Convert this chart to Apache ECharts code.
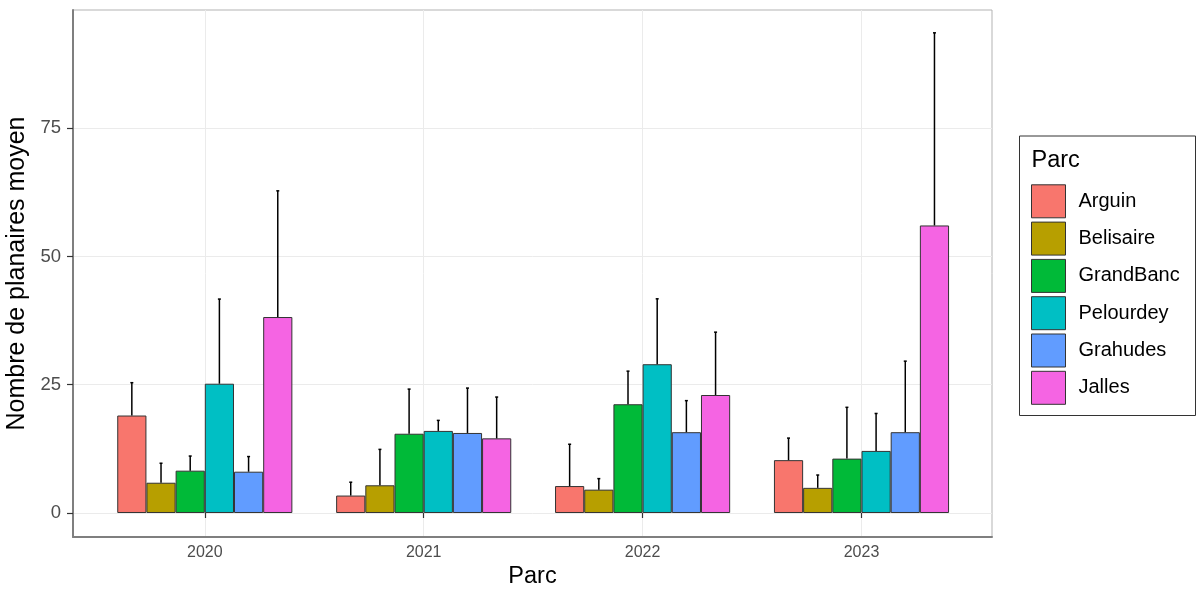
<!DOCTYPE html>
<html>
<head>
<meta charset="utf-8">
<script src="https://cdn.jsdelivr.net/npm/echarts@6/dist/echarts.min.js"></script>
<style>
html,body{margin:0;padding:0;background:#fff;}
#chart{width:1196px;height:593px;}
</style>
</head>
<body>
<div id="chart"></div>
<script>
// ---- data ----
var years = ['2020', '2021', '2022', '2023'];
var parcs = ['Arguin', 'Belisaire', 'GrandBanc', 'Pelourdey', 'Grahudes', 'Jalles'];
var colors = ['#F8766D', '#B79F00', '#00BA38', '#00BFC4', '#619CFF', '#F564E3'];

var arguin      = [19.0, 3.4, 5.25, 10.3];
var belisaire   = [5.9, 5.4, 4.55, 4.9];
var grandBanc   = [8.25, 15.45, 21.2, 10.6];
var pelourdey   = [25.2, 16.0, 29.0, 12.1];
var grahudes    = [8.05, 15.6, 15.75, 15.75];
var jalles      = [38.2, 14.55, 23.0, 56.05];

var arguinHaut    = [25.4, 6.0, 13.4, 14.6];
var belisaireHaut = [9.7, 12.4, 6.7, 7.4];
var grandBancHaut = [11.1, 24.15, 27.65, 20.6];
var pelourdeyHaut = [41.7, 18.05, 41.75, 19.4];
var grahudesHaut  = [11.0, 24.35, 21.9, 29.6];
var jallesHaut    = [62.8, 22.6, 35.25, 93.6];

var yTicks = [0, 25, 50, 75];
var yMin = -4.68, yMax = 98.05;

var means = [arguin, belisaire, grandBanc, pelourdey, grahudes, jalles];
var uppers = [arguinHaut, belisaireHaut, grandBancHaut, pelourdeyHaut, grahudesHaut, jallesHaut];

var FONT = 'Liberation Sans, Arial, sans-serif';
var nS = parcs.length;

var series = [];
// horizontal gridlines (panel grid)
series.push({
  type: 'line', xAxisIndex: 0, yAxisIndex: 0, data: [], silent: true, z: 0,
  markLine: {
    silent: true, symbol: 'none', animation: false, label: {show: false}, z: 0,
    lineStyle: {color: '#ebebeb', width: 1, type: 'solid'},
    emphasis: {disabled: true},
    data: yTicks.map(function (v) { return {yAxis: v}; })
  }
});
// vertical gridlines at categories
series.push({
  type: 'line', xAxisIndex: 1, yAxisIndex: 1, data: [], silent: true, z: 0,
  markLine: {
    silent: true, symbol: 'none', animation: false, label: {show: false}, z: 0,
    lineStyle: {color: '#ebebeb', width: 1, type: 'solid'},
    emphasis: {disabled: true},
    data: years.map(function (y) { return {xAxis: y}; })
  }
});
parcs.forEach(function (p, i) {
  series.push({
    name: p, type: 'bar', xAxisIndex: 1, yAxisIndex: 1,
    data: means[i], barGap: '0%', barCategoryGap: '20%',
    itemStyle: {color: colors[i], borderColor: '#333333', borderWidth: 1},
    z: 2, animation: false
  });
});
var errData = [];
parcs.forEach(function (p, s) {
  years.forEach(function (y, c) {
    errData.push([c, means[s][c], uppers[s][c], s]);
  });
});
series.push({
  type: 'custom', xAxisIndex: 1, yAxisIndex: 1, z: 3, silent: true, animation: false,
  encode: {x: 0, y: [1, 2]},
  data: errData,
  renderItem: function (params, api) {
    var c = api.value(0), m = api.value(1), u = api.value(2), s = api.value(3);
    var band = api.size([1, 0])[0];
    var bw = band * 0.8 / nS;
    var base = api.coord([c, m]);
    var top = api.coord([c, u]);
    var x = base[0] + (s - (nS - 1) / 2) * bw;
    return {
      type: 'group',
      children: [
        {type: 'line', shape: {x1: x, y1: base[1], x2: x, y2: top[1]}, style: {stroke: '#000', lineWidth: 1.5}},
        {type: 'line', shape: {x1: x - 1.5, y1: top[1], x2: x + 1.5, y2: top[1]}, style: {stroke: '#000', lineWidth: 1.5}}
      ]
    };
  }
});

var chart = echarts.init(document.getElementById('chart'), null, {renderer: 'canvas'});
chart.setOption({
  animation: false,
  backgroundColor: '#fff',
  textStyle: {fontFamily: FONT},
  grid: [
    {left: 73, top: 10, width: 919, height: 527, show: true, borderColor: '#b3b3b3', borderWidth: 1,
     backgroundColor: 'transparent', containLabel: false, outerBoundsMode: 'none'},
    {left: 95.35, top: 10, width: 875.6, height: 527, show: false, containLabel: false, outerBoundsMode: 'none'}
  ],
  xAxis: [
    {type: 'value', gridIndex: 0, min: 0, max: 1,
     axisLine: {show: true, onZero: false, lineStyle: {color: '#7f7f7f', width: 2}},
     axisTick: {show: false}, axisLabel: {show: false}, splitLine: {show: false},
     name: 'Parc', nameLocation: 'middle', nameGap: 28,
     nameTextStyle: {fontSize: 23.5, color: '#000', fontFamily: FONT}},
    {type: 'category', gridIndex: 1, data: years,
     axisLine: {show: false},
     axisTick: {show: true, alignWithLabel: true, length: 5, lineStyle: {color: '#333', width: 1.2}},
     axisLabel: {fontSize: 16, color: '#4d4d4d', margin: 8, fontFamily: FONT},
     splitLine: {show: false}}
  ],
  yAxis: [
    {type: 'value', gridIndex: 0, min: yMin, max: yMax,
     axisLine: {show: true, onZero: false, lineStyle: {color: '#7f7f7f', width: 2}},
     axisTick: {show: true, customValues: yTicks, length: 6, lineStyle: {color: '#333', width: 1.2}},
     axisLabel: {customValues: yTicks, fontSize: 18.5, color: '#4d4d4d', margin: 12, fontFamily: FONT},
     splitLine: {show: false},
     name: 'Nombre de planaires moyen', nameLocation: 'middle', nameGap: 38, nameRotate: 90,
     nameTextStyle: {fontSize: 25, color: '#000', fontFamily: FONT}},
    {type: 'value', gridIndex: 1, min: yMin, max: yMax, show: false, splitLine: {show: false}}
  ],
  legend: {
    orient: 'vertical', left: 1031, top: 184.3, padding: 0,
    itemWidth: 34, itemHeight: 33, itemGap: 3.3,
    icon: 'rect',
    data: parcs,
    itemStyle: {borderColor: '#333333', borderWidth: 1},
    textStyle: {fontSize: 20, color: '#000', fontFamily: FONT, padding: [0, 0, 0, 8]},
    selectedMode: false
  },
  graphic: [
    {type: 'rect', left: 1017, top: 133.5, shape: {width: 176, height: 279.5},
     style: {fill: 'none', stroke: '#333', lineWidth: 1}},
    {type: 'text', x: 1031.5, y: 160.5,
     style: {text: 'Parc', fontSize: 23.5, fontFamily: FONT, fill: '#000', verticalAlign: 'middle', textVerticalAlign: 'middle'}}
  ],
  series: series
});
</script>
</body>
</html>
